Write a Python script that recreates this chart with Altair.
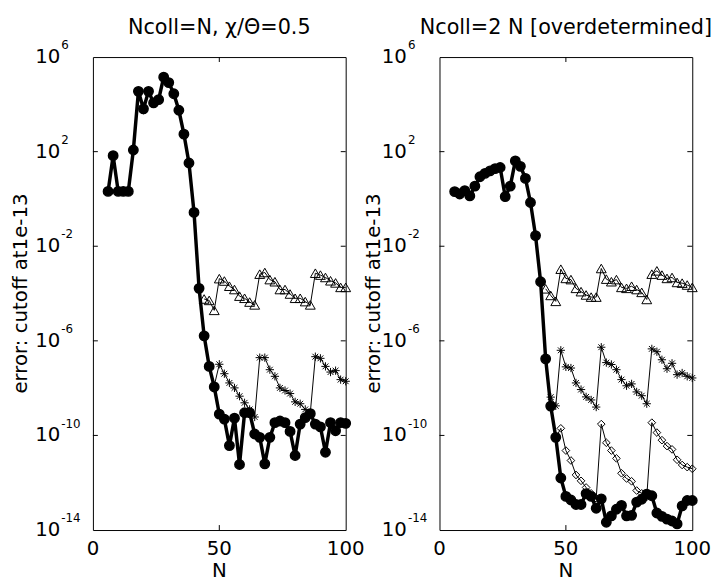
import altair as alt
import pandas as pd

FONT = "DejaVu Sans"
W, H = 256, 479

# N values (step 2)
N_all = list(range(6, 101, 2))

# log10(error)
left_thick = [0.32, 1.83, 0.32, 0.32, 0.32, 2.07, 4.55, 3.81, 4.55, 4.06, 4.20, 5.15,
              4.92, 4.45, 3.75, 2.74, 1.52, -0.57, -3.78, -5.79, -7.08, -7.95, -9.10, -9.31,
              -10.43, -9.27, -11.23, -9.04, -9.04, -9.94, -10.08, -11.20, -10.08, -9.46, -9.39, -9.46,
              -9.83, -10.85, -9.52, -9.25, -9.08, -9.52, -9.64, -10.71, -9.46, -9.80, -9.46, -9.49]
left_tri_start = 44
left_tri = [-4.23, -4.29, -4.71, -3.37, -3.47, -3.69, -3.83, -4.11, -4.20, -4.36, -4.48,
            -3.18, -3.11, -3.41, -3.50, -3.83, -3.83, -4.02, -4.20, -4.20, -4.34, -4.48,
            -3.14, -3.22, -3.32, -3.46, -3.55, -3.74, -3.74]
left_ast_start = 48
left_ast = [-7.90, -6.99, -7.39, -7.78, -7.99, -8.34, -8.62, -8.90, -9.22,
            -6.71, -6.71, -7.22, -7.50, -7.99, -8.10, -8.23, -8.58, -8.66, -8.90, -9.04,
            -6.67, -6.74, -7.08, -7.32, -7.26, -7.64, -7.71]

right_thick = [0.31, 0.21, 0.35, 0.13, 0.54, 0.94, 1.08, 1.19, 1.28, 1.33, 0.10, 0.54,
               1.61, 1.38, 0.87, -0.15, -1.55, -3.50, -6.76, -8.76, -10.08, -11.80, -12.58, -12.73,
               -12.92, -12.92, -12.46, -12.58, -13.08, -12.68, -13.67, -13.40, -13.12, -12.96, -13.40, -13.38,
               -12.82, -12.70, -12.48, -12.55, -13.28, -13.42, -13.54, -13.62, -13.74, -12.98, -12.75, -12.75]
right_tri_start = 42
right_tri = [-3.80, -4.08, -4.33, -2.97, -3.36, -3.41, -3.78, -3.92, -4.06, -4.15, -4.15,
             -2.94, -3.39, -3.50, -3.41, -3.74, -3.78, -3.69, -3.83, -3.95, -4.25,
             -3.18, -3.04, -3.22, -3.36, -3.32, -3.53, -3.56, -3.64, -3.74]
right_ast_start = 44
right_ast = [-8.38, -8.75, -6.40, -7.10, -7.15, -7.78, -8.06, -8.37, -8.50, -8.80,
             -6.27, -6.92, -7.00, -7.22, -7.64, -7.90, -7.82, -8.16, -8.32, -8.66,
             -6.34, -6.46, -6.80, -7.18, -6.95, -7.43, -7.36, -7.50, -7.57]
right_dia_start = 46
right_dia = [-10.10, -9.70, -10.64, -11.06, -11.67, -11.92, -12.20, -12.45, -12.66,
             -9.52, -10.31, -10.64, -10.97, -11.60, -11.82, -11.94, -12.33, -12.45, -12.60,
             -9.46, -9.88, -10.20, -10.45, -10.59, -11.03, -11.25, -11.34, -11.41]

titles = ["Ncoll=N, \u03c7/\u0398=0.5", "Ncoll=2 N [overdetermined]"]
y_title = "error: cutoff at1e-13"
x_title = "N"
x_tick_vals = [0, 50, 100]
x_inner_ticks = [50]
y_tick_exps = [6, 2, -2, -6, -10, -14]
y_inner_exps = [2, -2, -6, -10]

ASTERISK = "M-1,0L1,0M0,-1L0,1M-0.7,-0.7L0.7,0.7M-0.7,0.7L0.7,-0.7"

xs = alt.Scale(domain=[0, 100], nice=False)
ys = alt.Scale(type="log", domain=[1e-14, 1e6], nice=False)


def series_df(start, logs):
    return pd.DataFrame({"N": [start + 2 * i for i in range(len(logs))],
                         "err": [10 ** v for v in logs]})


def panel(title, thick, thin, ytitle_x):
    X = alt.X("N:Q", scale=xs, axis=None)
    Y = alt.Y("err:Q", scale=ys, axis=None)
    layers = []
    for (start, logs, shape, size) in thin:
        df = series_df(start, logs)
        base = alt.Chart(df)
        layers.append(base.mark_line(color="black", strokeWidth=1).encode(x=X, y=Y))
        layers.append(base.mark_point(shape=shape, size=size, filled=False, color="black",
                                      strokeWidth=1, opacity=1).encode(x=X, y=Y))
    tdf = pd.DataFrame({"N": N_all, "err": [10 ** v for v in thick]})
    tb = alt.Chart(tdf)
    layers.append(tb.mark_line(color="black", strokeWidth=3.5).encode(x=X, y=Y))
    layers.append(tb.mark_point(shape="circle", size=90, filled=True, color="black",
                                stroke="black", strokeWidth=1.5, opacity=1).encode(x=X, y=Y))

    # inner ticks
    xt = alt.Chart(pd.DataFrame({"N": x_inner_ticks}))
    layers.append(xt.mark_rule(color="black", strokeWidth=1).encode(
        x=alt.X("N:Q", scale=xs, axis=None), y=alt.value(H), y2=alt.value(H - 5)))
    layers.append(xt.mark_rule(color="black", strokeWidth=1).encode(
        x=alt.X("N:Q", scale=xs, axis=None), y=alt.value(0), y2=alt.value(5)))
    yt = alt.Chart(pd.DataFrame({"err": [10.0 ** e for e in y_inner_exps]}))
    layers.append(yt.mark_rule(color="black", strokeWidth=1).encode(
        y=alt.Y("err:Q", scale=ys, axis=None), x=alt.value(0), x2=alt.value(5)))
    layers.append(yt.mark_rule(color="black", strokeWidth=1).encode(
        y=alt.Y("err:Q", scale=ys, axis=None), x=alt.value(W - 5), x2=alt.value(W)))

    # x tick labels
    xl = alt.Chart(pd.DataFrame({"N": x_tick_vals, "lab": [str(v) for v in x_tick_vals]}))
    layers.append(xl.mark_text(font=FONT, fontSize=20, color="black", baseline="middle",
                               align="center").encode(
        x=alt.X("N:Q", scale=xs, axis=None), y=alt.value(H + 19), text="lab:N"))
    # y tick labels "10" + superscript exponent
    yl = alt.Chart(pd.DataFrame({"err": [10.0 ** e for e in y_tick_exps],
                                 "exp": [str(e) for e in y_tick_exps]}))
    layers.append(yl.mark_text(font=FONT, fontSize=20, color="black", baseline="middle",
                               align="right").encode(
        y=alt.Y("err:Q", scale=ys, axis=None), x=alt.value(-33), text=alt.value("10")))
    layers.append(yl.mark_text(font=FONT, fontSize=12, color="black", baseline="middle",
                               align="left", dy=-12).encode(
        y=alt.Y("err:Q", scale=ys, axis=None), x=alt.value(-32), text="exp:N"))
    # titles
    one = alt.Chart(pd.DataFrame({"t": [title], "xt": [x_title], "yt": [y_title]}))
    layers.append(one.mark_text(font=FONT, fontSize=21, color="black", baseline="middle",
                                align="center").encode(
        x=alt.value(W / 2), y=alt.value(-29), text="t:N"))
    layers.append(one.mark_text(font=FONT, fontSize=20, color="black", baseline="middle",
                                align="center").encode(
        x=alt.value(W / 2), y=alt.value(H + 42), text="xt:N"))
    layers.append(one.mark_text(font=FONT, fontSize=20, color="black", baseline="middle",
                                align="center", angle=270).encode(
        x=alt.value(ytitle_x), y=alt.value(H / 2), text="yt:N"))
    return alt.layer(*layers).properties(width=W, height=H)


left = panel(titles[0], left_thick,
             [(left_tri_start, left_tri, "triangle-up", 100),
              (left_ast_start, left_ast, ASTERISK, 70)], -72.5)
right = panel(titles[1], right_thick,
              [(right_tri_start, right_tri, "triangle-up", 100),
               (right_ast_start, right_ast, ASTERISK, 70),
               (right_dia_start, right_dia, "diamond", 60)], -66.5)

chart = alt.hconcat(left, right, spacing=95, bounds="flush").properties(
    padding={"left": 3, "top": 5, "right": 0, "bottom": 0}
).configure_view(stroke="black", strokeWidth=1)

chart.save("out.html", embed_options={"renderer": "svg", "actions": False})
